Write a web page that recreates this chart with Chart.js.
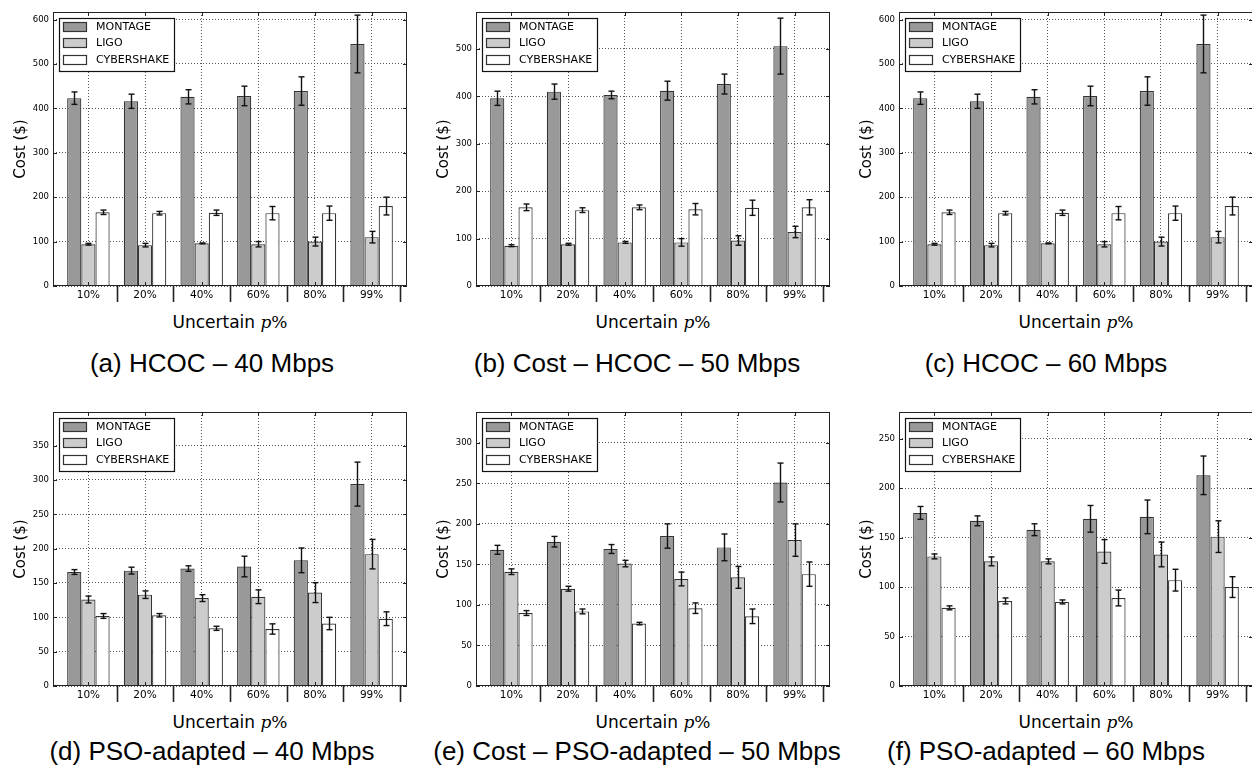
<!DOCTYPE html>
<html lang="en">
<head>
<meta charset="utf-8">
<title>Cost - HCOC / PSO-adapted</title>
<script src="https://cdn.jsdelivr.net/npm/chart.js@4.4.1/dist/chart.umd.min.js"></script>
<style>
  html, body { margin: 0; padding: 0; background: #fff; overflow: hidden; }
  body { position: relative; width: 1252px; height: 777px; }
  canvas { position: absolute; }
  .tituloX { position: absolute; width: 354px; height: 20px; line-height: 20px; text-align: center;
             font-family: 'DejaVu Sans'; font-size: 17px; color: #000; white-space: nowrap; }
  .tituloX .mat { font-family: 'DejaVu Serif'; }
  .legenda { position: absolute; width: 420px; height: 30px; line-height: 30px; text-align: center;
             font-family: 'Liberation Sans'; font-size: 26px; color: #000; white-space: nowrap; }
</style>
</head>
<body>
<canvas id="graficoA" width="419" height="312" style="left:0px;top:0px"></canvas>
<canvas id="graficoB" width="419" height="312" style="left:423px;top:0px"></canvas>
<canvas id="graficoC" width="419" height="312" style="left:846px;top:0px"></canvas>
<canvas id="graficoD" width="419" height="312" style="left:0px;top:400px"></canvas>
<canvas id="graficoE" width="419" height="312" style="left:423px;top:400px"></canvas>
<canvas id="graficoF" width="419" height="312" style="left:846px;top:400px"></canvas>

<div class="tituloX" style="left:53px;top:312px">Uncertain <i class="mat">p</i><span class="mat">%</span></div>
<div class="tituloX" style="left:476px;top:312px">Uncertain <i class="mat">p</i><span class="mat">%</span></div>
<div class="tituloX" style="left:899px;top:312px">Uncertain <i class="mat">p</i><span class="mat">%</span></div>
<div class="tituloX" style="left:53px;top:712px">Uncertain <i class="mat">p</i><span class="mat">%</span></div>
<div class="tituloX" style="left:476px;top:712px">Uncertain <i class="mat">p</i><span class="mat">%</span></div>
<div class="tituloX" style="left:899px;top:712px">Uncertain <i class="mat">p</i><span class="mat">%</span></div>

<div class="legenda" style="left:2px;top:348px">(a) HCOC – 40 Mbps</div>
<div class="legenda" style="left:427px;top:348px">(b) Cost – HCOC – 50 Mbps</div>
<div class="legenda" style="left:836px;top:348px">(c) HCOC – 60 Mbps</div>
<div class="legenda" style="left:2px;top:736px">(d) PSO-adapted – 40 Mbps</div>
<div class="legenda" style="left:427px;top:736px">(e) Cost – PSO-adapted – 50 Mbps</div>
<div class="legenda" style="left:836px;top:736px">(f) PSO-adapted – 60 Mbps</div>

<script>
const categorias = ['10%', '20%', '40%', '60%', '80%', '99%'];
const nomesSeries = ['MONTAGE', 'LIGO', 'CYBERSHAKE'];
const coresSeries = ['#999999', '#cccccc', '#ffffff'];

// (a) HCOC – 40 Mbps
const hcoc40Montage = [423, 416, 426, 428, 439, 545];
const hcoc40MontageErr = [14, 16, 16, 22, 32, 65];
const hcoc40Ligo = [94, 92, 96, 94, 100, 110];
const hcoc40LigoErr = [2, 4, 1, 6, 10, 13];
const hcoc40Cyber = [166, 164, 165, 164, 164, 180];
const hcoc40CyberErr = [5, 4, 6, 15, 16, 20];

// (b) Cost – HCOC – 50 Mbps
const hcoc50Montage = [396, 410, 403, 412, 426, 506];
const hcoc50MontageErr = [15, 16, 8, 20, 21, 59];
const hcoc50Ligo = [85, 88, 92, 92, 96, 114];
const hcoc50LigoErr = [2, 2, 2, 8, 10, 12];
const hcoc50Cyber = [166, 160, 166, 162, 165, 166];
const hcoc50CyberErr = [7, 5, 5, 12, 16, 16];

// (c) HCOC – 60 Mbps
const hcoc60Montage = [423, 416, 426, 428, 439, 545];
const hcoc60MontageErr = [14, 16, 16, 22, 32, 65];
const hcoc60Ligo = [94, 92, 96, 94, 100, 110];
const hcoc60LigoErr = [2, 4, 1, 6, 10, 13];
const hcoc60Cyber = [166, 164, 165, 164, 164, 180];
const hcoc60CyberErr = [5, 4, 6, 15, 16, 20];

// (d) PSO-adapted – 40 Mbps
const pso40Montage = [166, 168, 171, 174, 183, 294];
const pso40MontageErr = [3.5, 5, 4, 15, 18, 32];
const pso40Ligo = [126, 133, 128, 130, 136, 192];
const pso40LigoErr = [5, 5.5, 5, 10, 14.5, 21.5];
const pso40Cyber = [102, 103, 84, 83, 91, 98];
const pso40CyberErr = [3.5, 2.5, 3, 7.5, 9, 10];

// (e) Cost – PSO-adapted – 50 Mbps
const pso50Montage = [168, 178, 169, 185, 171, 251];
const pso50MontageErr = [5.5, 6.5, 5.5, 15, 16.5, 24];
const pso50Ligo = [141, 120, 151, 132, 134, 180];
const pso50LigoErr = [3.5, 3, 4, 8.5, 13.5, 20];
const pso50Cyber = [90, 92, 77, 96, 86, 138];
const pso50CyberErr = [3, 3, 1.5, 6.5, 9, 15];

// (f) PSO-adapted – 60 Mbps
const pso60Montage = [175, 167, 158, 169, 171, 213];
const pso60MontageErr = [6.5, 5, 6, 13.5, 17, 19.5];
const pso60Ligo = [131, 126, 126, 136, 133, 151];
const pso60LigoErr = [2.5, 4.5, 2.5, 12, 12.5, 16];
const pso60Cyber = [79, 86, 85, 89, 107, 100];
const pso60CyberErr = [2, 3, 2, 8, 11, 10.5];

// limites e passos do eixo y de cada painel (a..f)
const yMaximos = [617, 578, 617, 399, 338, 277];
const yPassos = [100, 100, 100, 50, 50, 50];

const fonte = 'DejaVu Sans';

function linha(ctx, x1, y1, x2, y2) {
    ctx.beginPath();
    ctx.moveTo(x1, y1);
    ctx.lineTo(x2, y2);
    ctx.stroke();
}

// Barras de erro (media +/- desvio) em cima de cada barra
const pluginErros = {
    id: 'erros',
    afterDatasetsDraw(chart) {
        const { ctx, scales: { y } } = chart;
        ctx.save();
        ctx.strokeStyle = '#111';
        ctx.lineWidth = 1.4;
        chart.data.datasets.forEach((ds, d) => {
            chart.getDatasetMeta(d).data.forEach((barra, i) => {
                const v = ds.data[i].y;
                const e = ds.erros[i];
                const x = Math.round(barra.x) + 0.5;
                const yTopo = y.getPixelForValue(v + e);
                const yBase = y.getPixelForValue(v - e);
                linha(ctx, x, yTopo, x, yBase);
                linha(ctx, x - 3, yTopo, x + 3, yTopo);
                linha(ctx, x - 3, yBase, x + 3, yBase);
            });
        });
        ctx.restore();
    }
};

// Moldura, marcas internas e separadores entre grupos
const pluginMoldura = {
    id: 'moldura',
    afterDraw(chart) {
        const { ctx, chartArea: { left, top, right, bottom }, scales: { x, y } } = chart;
        ctx.save();
        ctx.strokeStyle = '#222';
        ctx.lineWidth = 1;
        ctx.strokeRect(left + 0.5, top + 0.5, right - left - 1, bottom - top - 1);

        y.ticks.forEach((t, i) => {
            const py = Math.round(y.getPixelForTick(i)) + 0.5;
            linha(ctx, left, py, left + 4, py);
            linha(ctx, right - 4, py, right, py);
        });
        x.ticks.forEach((t, i) => {
            const px = Math.round(x.getPixelForTick(i)) + 0.5;
            linha(ctx, px, bottom, px, bottom - 4);
            linha(ctx, px, top, px, top + 4);
        });

        ctx.lineWidth = 1.6;
        categorias.forEach((c, i) => {
            const px = Math.round(x.getPixelForValue(i + 0.5)) + 0.5;
            linha(ctx, px, bottom, px, bottom + 16);
        });
        ctx.restore();
    }
};

// Legenda dentro da area do grafico, canto superior esquerdo
const pluginLegenda = {
    id: 'legendaInterna',
    afterDraw(chart) {
        const { ctx, chartArea: { left, top } } = chart;
        const bx = left + 6, by = top + 6;
        ctx.save();
        ctx.fillStyle = '#fff';
        ctx.fillRect(bx, by, 115, 53);
        ctx.strokeStyle = '#111';
        ctx.lineWidth = 1.2;
        ctx.strokeRect(bx + 0.5, by + 0.5, 115, 53);
        ctx.font = '11px "' + fonte + '"';
        ctx.textBaseline = 'middle';
        chart.data.datasets.forEach((ds, i) => {
            const cy = Math.round(top + 15 + i * 16.4);
            ctx.fillStyle = ds.backgroundColor;
            ctx.fillRect(left + 10, cy - 4.5, 24, 9);
            ctx.strokeStyle = '#333';
            ctx.strokeRect(left + 10.5, cy - 4.5, 23, 9);
            ctx.fillStyle = '#000';
            ctx.fillText(ds.label, left + 43, cy + 0.5);
        });
        ctx.restore();
    }
};

function criarGrafico(id, valores, erros, yMax, yPasso) {
    const ctx = document.getElementById(id).getContext('2d');
    return new Chart(ctx, {
        type: 'bar',
        data: {
            datasets: nomesSeries.map((nome, s) => ({
                label: nome,
                data: valores[s].map((v, i) => ({ x: i, y: v })),
                erros: erros[s],
                backgroundColor: coresSeries[s],
                borderColor: '#333',
                borderWidth: 1.2,
                categoryPercentage: 0.75,
                barPercentage: 1
            }))
        },
        options: {
            responsive: false,
            animation: false,
            devicePixelRatio: 1,
            layout: { padding: { top: 12, right: 12, left: 0, bottom: 0 } },
            plugins: { legend: { display: false }, tooltip: { enabled: false } },
            scales: {
                x: {
                    type: 'linear',
                    offset: false,
                    min: -0.625,
                    max: 5.625,
                    z: 1,
                    afterBuildTicks: s => { s.ticks = categorias.map((c, i) => ({ value: i })); },
                    afterFit: s => { s.height = 26; },
                    grid: { offset: false, color: '#555', lineWidth: 1, drawTicks: false },
                    border: { display: false, dash: [1, 2] },
                    ticks: {
                        callback: v => categorias[v],
                        autoSkip: false,
                        maxRotation: 0,
                        padding: 3,
                        color: '#000',
                        font: { family: fonte, size: 10.5 }
                    }
                },
                y: {
                    min: 0,
                    max: yMax,
                    z: 1,
                    afterBuildTicks: s => {
                        const marcas = [];
                        for (let v = 0; v <= yMax; v += yPasso) marcas.push({ value: v });
                        s.ticks = marcas;
                    },
                    afterFit: s => { s.width = 53; },
                    grid: { color: '#555', lineWidth: 1, drawTicks: false },
                    border: { display: false, dash: [1, 2] },
                    ticks: {
                        padding: 4,
                        color: '#000',
                        font: { family: fonte, size: 8.5 }
                    },
                    title: {
                        display: true,
                        text: 'Cost ($)',
                        color: '#000',
                        font: { family: fonte, size: 15 },
                        padding: { top: 12, bottom: 0 }
                    }
                }
            }
        },
        plugins: [pluginErros, pluginMoldura, pluginLegenda]
    });
}

criarGrafico('graficoA', [hcoc40Montage, hcoc40Ligo, hcoc40Cyber],
    [hcoc40MontageErr, hcoc40LigoErr, hcoc40CyberErr], yMaximos[0], yPassos[0]);
criarGrafico('graficoB', [hcoc50Montage, hcoc50Ligo, hcoc50Cyber],
    [hcoc50MontageErr, hcoc50LigoErr, hcoc50CyberErr], yMaximos[1], yPassos[1]);
criarGrafico('graficoC', [hcoc60Montage, hcoc60Ligo, hcoc60Cyber],
    [hcoc60MontageErr, hcoc60LigoErr, hcoc60CyberErr], yMaximos[2], yPassos[2]);
criarGrafico('graficoD', [pso40Montage, pso40Ligo, pso40Cyber],
    [pso40MontageErr, pso40LigoErr, pso40CyberErr], yMaximos[3], yPassos[3]);
criarGrafico('graficoE', [pso50Montage, pso50Ligo, pso50Cyber],
    [pso50MontageErr, pso50LigoErr, pso50CyberErr], yMaximos[4], yPassos[4]);
criarGrafico('graficoF', [pso60Montage, pso60Ligo, pso60Cyber],
    [pso60MontageErr, pso60LigoErr, pso60CyberErr], yMaximos[5], yPassos[5]);
</script>
</body>
</html>
